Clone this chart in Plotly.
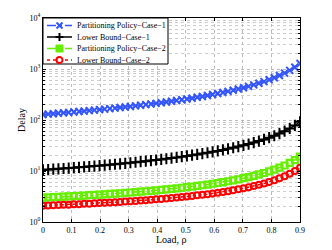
import plotly.graph_objects as go

rho = [round(i * 0.018, 3) for i in range(51)]

policy_case1 = [128, 130.3, 132.8, 135.3, 137.9, 140.7, 143.5, 146.5, 149.5, 152.7, 156.1, 159.6, 163.3,
                167.1, 171.1, 175.3, 179.8, 184.4, 189.4, 194.5, 200.0, 205.8, 211.9, 218.4, 225.4, 232.7,
                240.6, 249.0, 258.1, 267.8, 278.3, 289.6, 301.9, 315.3, 329.9, 345.9, 363.6, 383.2, 405.1,
                429.5, 457.1, 488.6, 524.6, 566.4, 615.4, 673.7, 744.2, 831.2, 941.2, 1084.7, 1280]
bound_case1 = [10.50, 10.67, 10.84, 11.02, 11.20, 11.40, 11.60, 11.81, 12.02, 12.25, 12.49, 12.74, 13.00,
               13.27, 13.55, 13.85, 14.17, 14.50, 14.84, 15.21, 15.60, 16.01, 16.44, 16.90, 17.39, 17.91,
               18.47, 19.07, 19.71, 20.39, 21.14, 21.94, 22.81, 23.76, 24.79, 25.93, 27.18, 28.57, 30.11,
               31.84, 33.80, 36.02, 38.57, 41.53, 45.00, 49.13, 54.12, 60.27, 68.06, 78.22, 92.0]
policy_case2 = [3.00, 3.03, 3.07, 3.10, 3.14, 3.18, 3.22, 3.26, 3.30, 3.35, 3.39, 3.44, 3.49, 3.55, 3.60,
                3.66, 3.72, 3.79, 3.86, 3.93, 4.01, 4.09, 4.17, 4.27, 4.36, 4.47, 4.58, 4.69, 4.82, 4.96,
                5.10, 5.26, 5.43, 5.62, 5.82, 6.05, 6.30, 6.57, 6.88, 7.22, 7.60, 8.04, 8.55, 9.13, 9.82,
                10.63, 11.62, 12.83, 14.37, 16.38, 19.1]
bound_case2 = [2.09, 2.11, 2.13, 2.15, 2.17, 2.19, 2.22, 2.24, 2.27, 2.29, 2.32, 2.35, 2.38, 2.41, 2.44,
               2.48, 2.52, 2.55, 2.59, 2.64, 2.68, 2.73, 2.78, 2.83, 2.89, 2.95, 3.02, 3.09, 3.16, 3.24,
               3.33, 3.42, 3.52, 3.63, 3.75, 3.89, 4.03, 4.20, 4.38, 4.58, 4.81, 5.06, 5.36, 5.71, 6.11,
               6.59, 7.18, 7.89, 8.80, 9.99, 11.6]

series_names = ["Partitioning Policy\u2212Case\u22121", "Lower Bound\u2212Case\u22121",
                "Partitioning Policy\u2212Case\u22122", "Lower Bound\u2212Case\u22122"]

x_ticks = [0, 0.1, 0.2, 0.3, 0.4, 0.5, 0.6, 0.7, 0.8, 0.9]
x_labels = ["0", "0.1", "0.2", "0.3", "0.4", "0.5", "0.6", "0.7", "0.8", "0.9"]
y_ticks = [1, 10, 100, 1000, 10000]
y_labels = ["10<sup>0</sup>", "10<sup>1</sup>", "10<sup>2</sup>", "10<sup>3</sup>", "10<sup>4</sup>"]

FONT = "Liberation Serif"
BLUE, BLACK, GREEN, RED = "#3355ff", "black", "#66ee00", "#ff0000"

# page offset: the html body has an 8px margin
OFF = 8
W, H = 332, 250
# plot area in page pixels: x 43..300, y 18..222
ML, MR, MT, MB = 43 - OFF, W - (300 - OFF), 18 - OFF, H - (222 - OFF)
PW, PH = W - ML - MR, H - MT - MB


def px(x):
    return (x - OFF - ML) / PW


def py(y):
    return (H - MB - (y - OFF)) / PH


fig = go.Figure()
fig.add_trace(go.Scatter(x=rho, y=policy_case1, name=series_names[0], mode="lines+markers",
                         line=dict(color=BLUE, width=1.5, dash="dashdot"),
                         marker=dict(symbol="x-thin-open", size=7, line=dict(color=BLUE, width=2))))
fig.add_trace(go.Scatter(x=rho, y=bound_case1, name=series_names[1], mode="lines+markers",
                         line=dict(color=BLACK, width=1.5),
                         marker=dict(symbol="cross-thin-open", size=8, line=dict(color=BLACK, width=2))))
fig.add_trace(go.Scatter(x=rho, y=policy_case2, name=series_names[2], mode="lines+markers",
                         line=dict(color=GREEN, width=1.5, dash="dash"),
                         marker=dict(symbol="square-open", size=6, line=dict(color=GREEN, width=2.2))))
fig.add_trace(go.Scatter(x=rho, y=bound_case2, name=series_names[3], mode="lines+markers",
                         line=dict(color=RED, width=1.5, dash="dot"),
                         marker=dict(symbol="circle-open", size=6, line=dict(color=RED, width=2))))

# ---- manual legend (MATLAB style) ----
shapes = [dict(type="rect", xref="paper", yref="paper", x0=px(43), x1=px(168), y0=py(64), y1=py(18),
               fillcolor="white", line=dict(color="black", width=1), layer="above")]
annotations = []
row_y = [25.5, 37, 48.5, 60]
styles = [(BLUE, "dashdot"), (BLACK, "solid"), (GREEN, "dash"), (RED, "dot")]
mx = px(59.5)
for i, (col, dash) in enumerate(styles):
    ry = py(row_y[i])
    shapes.append(dict(type="line", xref="paper", yref="paper", x0=px(47), x1=px(72), y0=ry, y1=ry,
                       line=dict(color=col, width=1.5, dash=dash), layer="above"))
    annotations.append(dict(text=series_names[i], xref="paper", yref="paper", x=px(75), y=ry,
                            xanchor="left", yanchor="middle", showarrow=False,
                            font=dict(family=FONT, size=8, color="black")))

common = dict(xref="paper", yref="paper", xsizemode="pixel", ysizemode="pixel", xanchor=mx, layer="above")
ry = py(row_y[0])
shapes.append(dict(type="line", x0=-3, x1=3, y0=-3, y1=3, yanchor=ry, line=dict(color=BLUE, width=2), **common))
shapes.append(dict(type="line", x0=-3, x1=3, y0=3, y1=-3, yanchor=ry, line=dict(color=BLUE, width=2), **common))
ry = py(row_y[1])
shapes.append(dict(type="line", x0=-4, x1=4, y0=0, y1=0, yanchor=ry, line=dict(color=BLACK, width=2), **common))
shapes.append(dict(type="line", x0=0, x1=0, y0=-4, y1=4, yanchor=ry, line=dict(color=BLACK, width=2), **common))
ry = py(row_y[2])
shapes.append(dict(type="rect", x0=-3.5, x1=3.5, y0=-3.5, y1=3.5, yanchor=ry, fillcolor=GREEN,
                   line=dict(color=GREEN, width=1), **common))
ry = py(row_y[3])
shapes.append(dict(type="circle", x0=-3, x1=3, y0=-3, y1=3, yanchor=ry, fillcolor="white",
                   line=dict(color=RED, width=2), **common))

# axis titles
annotations.append(dict(text="Load, \u03c1", xref="paper", yref="paper", x=px(171), y=py(240),
                        xanchor="center", yanchor="middle", showarrow=False,
                        font=dict(family=FONT, size=10, color="black")))
annotations.append(dict(text="Delay", xref="paper", yref="paper", x=px(21), y=py(120), textangle=-90,
                        xanchor="center", yanchor="middle", showarrow=False,
                        font=dict(family=FONT, size=10, color="black")))

fig.update_layout(
    width=W, height=H,
    margin=dict(l=ML, r=MR, t=MT, b=MB, autoexpand=False),
    paper_bgcolor="white", plot_bgcolor="white",
    font=dict(family=FONT, size=8, color="black"),
    showlegend=False,
    shapes=shapes, annotations=annotations,
    xaxis=dict(range=[0, 0.9], tickvals=x_ticks, ticktext=x_labels, automargin=False,
               showline=True, mirror="ticks", linecolor="black", linewidth=1,
               ticks="inside", ticklen=3, tickcolor="black",
               showgrid=True, gridcolor="#bbbbbb", griddash="dot", gridwidth=1,
               zeroline=False, tickfont=dict(family=FONT, size=8)),
    yaxis=dict(type="log", range=[0, 4], tickvals=y_ticks, ticktext=y_labels, automargin=False,
               showline=True, mirror="ticks", linecolor="black", linewidth=1,
               ticks="inside", ticklen=3, tickcolor="black",
               showgrid=True, gridcolor="#bbbbbb", griddash="dot", gridwidth=1,
               minor=dict(dtick="D1", showgrid=True, gridcolor="#cccccc", griddash="dot",
                          ticks="inside", ticklen=2, tickcolor="black"),
               zeroline=False, tickfont=dict(family=FONT, size=8)),
)

fig.write_html("out.html")
